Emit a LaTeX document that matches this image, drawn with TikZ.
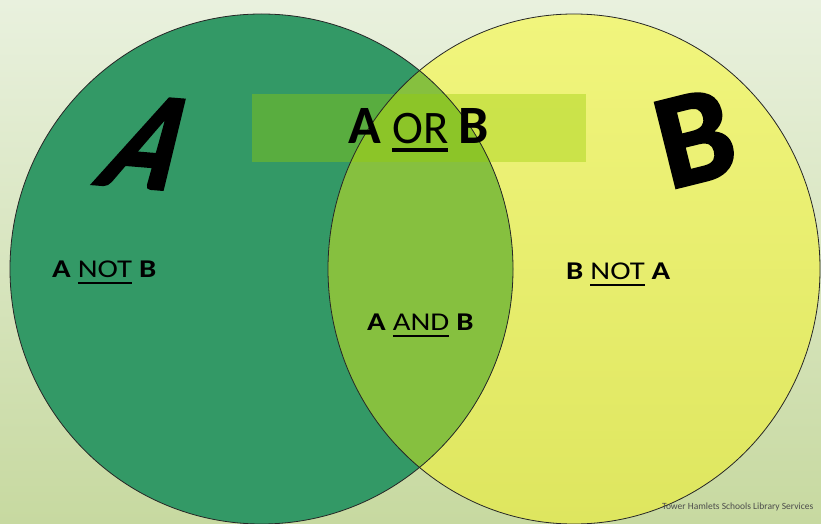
\documentclass[tikz,border=0pt]{standalone}
\usepackage{fontspec}
\setmainfont{Carlito}
\newfontfamily\bigfont{Carlito Bold}[FakeBold=2]
\definecolor{bgtop}{RGB}{233,241,222}
\definecolor{bgbot}{RGB}{199,217,160}
\definecolor{agreen}{RGB}{51,153,102}
\definecolor{ytop}{RGB}{241,245,125}
\definecolor{ybot}{RGB}{222,230,95}
\definecolor{lens}{RGB}{134,192,63}
\definecolor{orbox}{RGB}{151,205,4}
\newsavebox\ulsave
\newcommand\ulbox[3]{\sbox\ulsave{#3}\rlap{\rule[-#1]{\wd\ulsave}{#2}}\usebox\ulsave}
\begin{document}
\begin{tikzpicture}[x=1pt,y=-1pt,
  outline/.style={draw=black!85, line width=0.8pt},
  lbl/.style={inner sep=0pt, anchor=base west, xscale=1.2, font=\fontsize{25.6}{30}\selectfont},
  bigletter/.style={inner sep=0pt, font=\bigfont\fontsize{135}{135}\selectfont}]
\useasboundingbox (0,0) rectangle (821,524);
\shade[top color=bgtop, bottom color=bgbot] (0,0) rectangle (821,524);
\shade[top color=ytop, bottom color=ybot] (574,269) ellipse [x radius=246pt, y radius=255pt];
\fill[agreen] (261.5,269) ellipse [x radius=251.5pt, y radius=255pt];
\begin{scope}
  \clip (261.5,269) ellipse [x radius=251.5pt, y radius=255pt];
  \fill[lens] (574,269) ellipse [x radius=246pt, y radius=255pt];
\end{scope}
\fill[orbox, fill opacity=0.39] (252,94) rectangle (586,162);
\draw[outline] (261.5,269) ellipse [x radius=251.5pt, y radius=255pt];
\draw[outline] (574,269) ellipse [x radius=246pt, y radius=255pt];
% title
\node[inner sep=0pt, anchor=base, font=\fontsize{46.6}{50}\selectfont] (orb) at (419,143)
  {{\fontsize{54}{60}\selectfont\bfseries A} \ulbox{8.7pt}{3.5pt}{OR} {\fontsize{54}{60}\selectfont\bfseries B}};
% big letters
\node[bigletter, xslant=0.5, xscale=0.9, rotate=-4] (bigA) at (152,143) {A};
\node[bigletter, rotate=14] (bigB) at (695,138) {B};
% region labels
\node[lbl] (anotb) at (52,277) {{\bfseries A} \ulbox{7pt}{2pt}{NOT} {\bfseries B}};
\node[lbl] (aandb) at (367,330) {{\bfseries A} \ulbox{7pt}{2pt}{AND} {\bfseries B}};
\node[lbl] (bnota) at (566,279) {{\bfseries B} \ulbox{7pt}{2pt}{NOT} {\bfseries A}};
% credit
\node[inner sep=0pt, anchor=base west, font=\fontsize{9.5}{10}\selectfont, text=black!70] (credit) at (662,509) {Tower Hamlets Schools Library Services};
\end{tikzpicture}
\end{document}
